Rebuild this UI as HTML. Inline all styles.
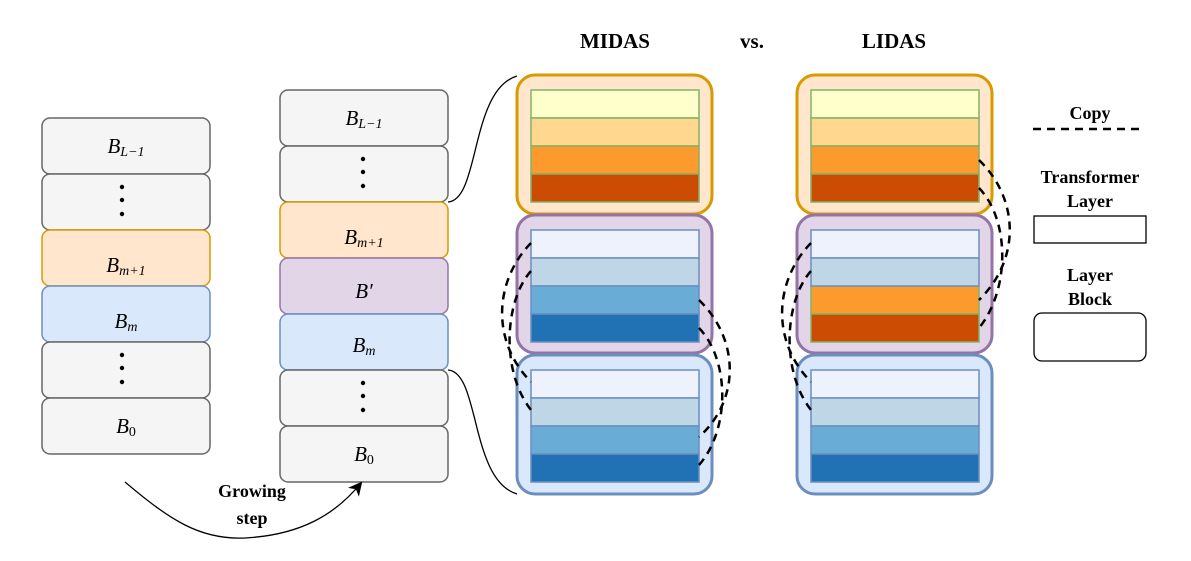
<!DOCTYPE html>
<html><head><meta charset="utf-8"><style>body{margin:0;background:#fff}svg{display:block}</style></head><body>
<svg width="1191" height="561" viewBox="0 0 1191 561" xmlns="http://www.w3.org/2000/svg" font-family="Liberation Serif, serif">
<defs><marker id="ah" markerWidth="14" markerHeight="14" refX="12" refY="7" orient="auto" markerUnits="userSpaceOnUse"><path d="M0,0 L14,7 L0,14 L4,7 Z" fill="#000"/></marker></defs>
<g stroke-width="1.5">
<rect x="42" y="118" width="168" height="56" rx="8" fill="#f5f5f5" stroke="#666"/>
<rect x="42" y="174" width="168" height="56" rx="8" fill="#f5f5f5" stroke="#666"/>
<rect x="42" y="230" width="168" height="56" rx="8" fill="#ffe6cc" stroke="#d79b00"/>
<rect x="42" y="286" width="168" height="56" rx="8" fill="#dae8fc" stroke="#6c8ebf"/>
<rect x="42" y="342" width="168" height="56" rx="8" fill="#f5f5f5" stroke="#666"/>
<rect x="42" y="398" width="168" height="56" rx="8" fill="#f5f5f5" stroke="#666"/>
<rect x="280" y="90" width="168" height="56" rx="8" fill="#f5f5f5" stroke="#666"/>
<rect x="280" y="146" width="168" height="56" rx="8" fill="#f5f5f5" stroke="#666"/>
<rect x="280" y="202" width="168" height="56" rx="8" fill="#ffe6cc" stroke="#d79b00"/>
<rect x="280" y="258" width="168" height="56" rx="8" fill="#e1d5e7" stroke="#9673a6"/>
<rect x="280" y="314" width="168" height="56" rx="8" fill="#dae8fc" stroke="#6c8ebf"/>
<rect x="280" y="370" width="168" height="56" rx="8" fill="#f5f5f5" stroke="#666"/>
<rect x="280" y="426" width="168" height="56" rx="8" fill="#f5f5f5" stroke="#666"/>
</g>
<g fill="#000">
<circle cx="122" cy="187" r="2.2"/><circle cx="122" cy="200" r="2.2"/><circle cx="122" cy="214" r="2.2"/>
<circle cx="122" cy="355" r="2.2"/><circle cx="122" cy="368" r="2.2"/><circle cx="122" cy="382" r="2.2"/>
<circle cx="363" cy="159" r="2.2"/><circle cx="363" cy="172" r="2.2"/><circle cx="363" cy="186" r="2.2"/>
<circle cx="363" cy="383" r="2.2"/><circle cx="363" cy="396" r="2.2"/><circle cx="363" cy="410" r="2.2"/>
</g>
<g font-style="italic" font-size="21" text-anchor="middle">
<text x="126" y="153">B<tspan font-size="14" dy="3">L−1</tspan></text>
<text x="126" y="272">B<tspan font-size="14" dy="3">m+1</tspan></text>
<text x="126" y="328">B<tspan font-size="14" dy="3">m</tspan></text>
<text x="126" y="433">B<tspan font-size="14" dy="3" font-style="normal">0</tspan></text>
<text x="364" y="125">B<tspan font-size="14" dy="3">L−1</tspan></text>
<text x="364" y="244">B<tspan font-size="14" dy="3">m+1</tspan></text>
<text x="364" y="298">B′</text>
<text x="364" y="352">B<tspan font-size="14" dy="3">m</tspan></text>
<text x="364" y="461">B<tspan font-size="14" dy="3" font-style="normal">0</tspan></text>
</g>
<g fill="none" stroke="#000" stroke-width="1.3">
<path d="M448,202 C480,200 470,90 517,76"/>
<path d="M448,370 C480,372 470,480 517,494"/>
<path d="M125,482 C170,520 200,540 245,538 C300,535 335,515 361,483" marker-end="url(#ah)"/>
</g>
<g font-weight="bold" font-size="18" text-anchor="middle">
<text x="252" y="497">Growing</text>
<text x="252" y="524">step</text>
<text x="615" y="48" font-size="21">MIDAS</text>
<text x="752" y="48" font-size="21">vs.</text>
<text x="894" y="48" font-size="21">LIDAS</text>
<text x="1090" y="119">Copy</text>
<text x="1090" y="183">Transformer</text>
<text x="1090" y="207">Layer</text>
<text x="1090" y="281">Layer</text>
<text x="1090" y="305">Block</text>
</g>
<line x1="1033" y1="129" x2="1145" y2="129" stroke="#000" stroke-width="2.5" stroke-dasharray="8,6"/>
<rect x="1034" y="216" width="112" height="27" fill="#fff" stroke="#000" stroke-width="1.3"/>
<rect x="1034" y="313" width="112" height="48" rx="8" fill="#fff" stroke="#000" stroke-width="1.3"/>
<g stroke-width="3">
<rect x="517" y="75" width="195" height="139" rx="18" fill="#ffe6cc" stroke="#d79b00"/>
<rect x="517" y="215" width="195" height="138" rx="18" fill="#e1d5e7" stroke="#9673a6"/>
<rect x="517" y="355" width="195" height="139" rx="18" fill="#dae8fc" stroke="#6c8ebf"/>
<rect x="797" y="75" width="195" height="139" rx="18" fill="#ffe6cc" stroke="#d79b00"/>
<rect x="797" y="215" width="195" height="138" rx="18" fill="#e1d5e7" stroke="#9673a6"/>
<rect x="797" y="355" width="195" height="139" rx="18" fill="#dae8fc" stroke="#6c8ebf"/>
</g>
<g stroke-width="1.5">
<g stroke="#82b366">
<rect x="531" y="90" width="168" height="28" fill="#ffffcc"/>
<rect x="531" y="118" width="168" height="28" fill="#ffd78e"/>
<rect x="531" y="146" width="168" height="28" fill="#fd9a2d"/>
<rect x="531" y="174" width="168" height="28" fill="#cb4c02"/>
<rect x="811" y="90" width="168" height="28" fill="#ffffcc"/>
<rect x="811" y="118" width="168" height="28" fill="#ffd78e"/>
<rect x="811" y="146" width="168" height="28" fill="#fd9a2d"/>
<rect x="811" y="174" width="168" height="28" fill="#cb4c02"/>
<rect x="811" y="286" width="168" height="28" fill="#fd9a2d"/>
<rect x="811" y="314" width="168" height="28" fill="#cb4c02"/>
</g>
<g stroke="#6c8ebf">
<rect x="531" y="230" width="168" height="28" fill="#eef2fd"/>
<rect x="531" y="258" width="168" height="28" fill="#bfd6e6"/>
<rect x="531" y="286" width="168" height="28" fill="#69acd6"/>
<rect x="531" y="314" width="168" height="28" fill="#2171b5"/>
<rect x="531" y="370" width="168" height="28" fill="#eef2fd"/>
<rect x="531" y="398" width="168" height="28" fill="#bfd6e6"/>
<rect x="531" y="426" width="168" height="28" fill="#69acd6"/>
<rect x="531" y="454" width="168" height="28" fill="#2171b5"/>
<rect x="811" y="230" width="168" height="28" fill="#eef2fd"/>
<rect x="811" y="258" width="168" height="28" fill="#bfd6e6"/>
<rect x="811" y="370" width="168" height="28" fill="#eef2fd"/>
<rect x="811" y="398" width="168" height="28" fill="#bfd6e6"/>
<rect x="811" y="426" width="168" height="28" fill="#69acd6"/>
<rect x="811" y="454" width="168" height="28" fill="#2171b5"/>
</g>
</g>
<g fill="none" stroke="#000" stroke-width="2.5" stroke-dasharray="8,6">
<path d="M531,243 C495,280 490,340 531,382"/>
<path d="M531,271 C505,300 500,370 531,410"/>
<path d="M699,300 C740,340 740,400 699,437"/>
<path d="M699,328 C730,360 730,430 699,465"/>
<path d="M979,160 C1020,200 1020,260 979,300"/>
<path d="M979,188 C1010,220 1010,290 979,328"/>
<path d="M811,243 C775,280 770,340 811,382"/>
<path d="M811,271 C785,300 780,370 811,410"/>
</g>
</svg>
</body></html>
